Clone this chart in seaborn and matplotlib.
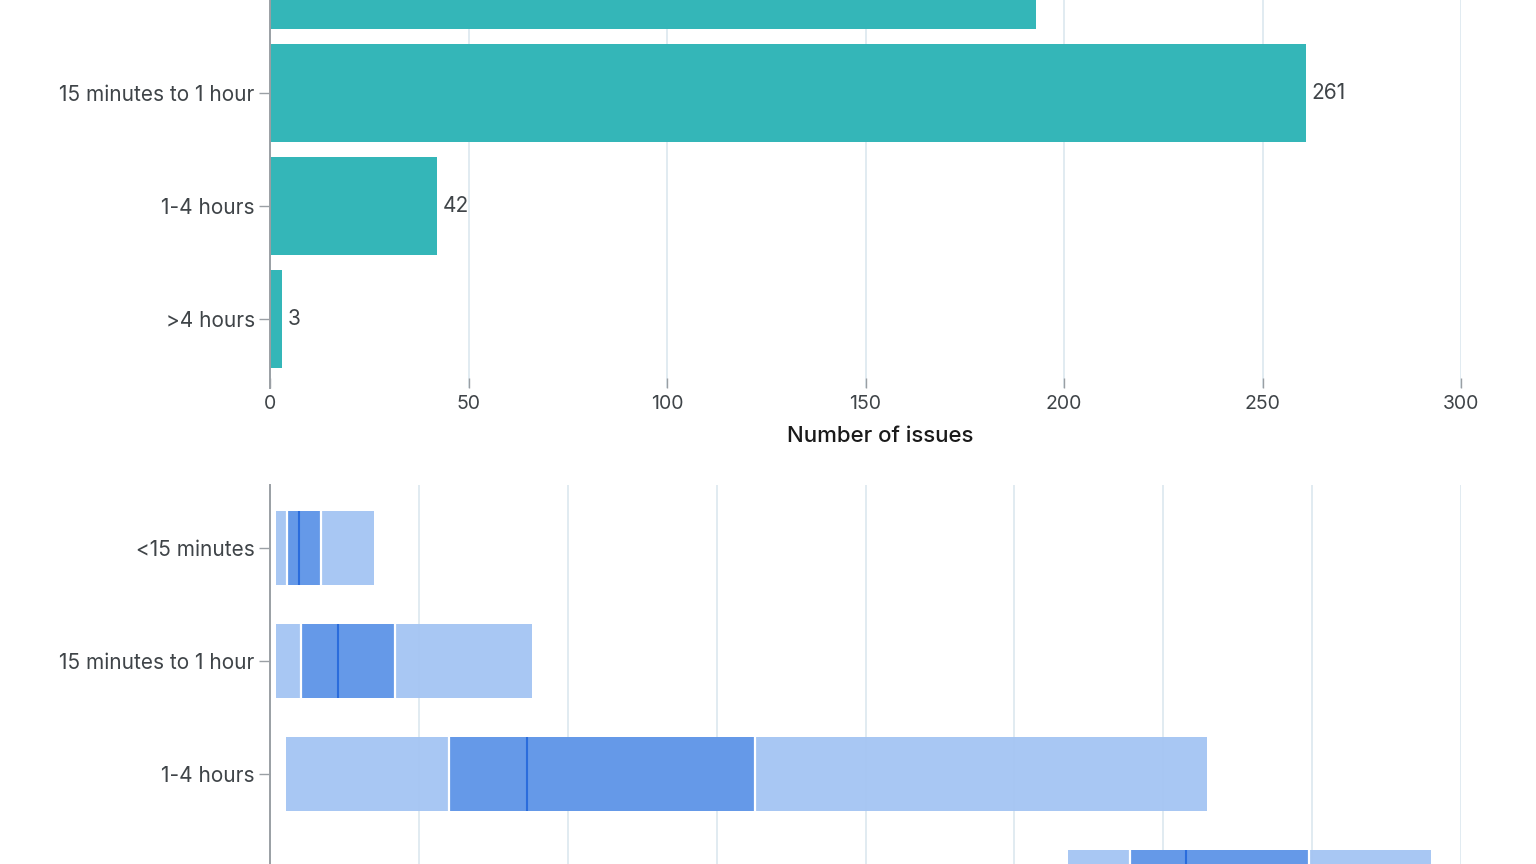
import matplotlib
matplotlib.use("Agg")
import matplotlib.pyplot as plt
import pandas as pd
import seaborn as sns


CATEGORIES = ["<15 minutes", "15 minutes to 1 hour", "1-4 hours", ">4 hours"]
ISSUE_COUNTS = [193, 261, 42, 3]

# spread per category (low whisker, q1, median, q3, high whisker)
RANGE_LOW = [2, 2, 5.4, 268]
RANGE_Q1 = [5.7, 10.4, 60, 289]
RANGE_MEDIAN = [9.7, 22.8, 86.3, 307.7]
RANGE_Q3 = [17, 42, 163, 349]
RANGE_HIGH = [35, 88, 314.7, 390]

COLOR_TEAL = "#34b6b8"
COLOR_LIGHT = "#a4c4f3"
COLOR_MID = "#6297e8"
COLOR_MEDIAN = "#2a6cdc"
COLOR_GRID = "#d9e6ee"
COLOR_SPINE = "#9a9fa4"
COLOR_TEXT = "#3f4448"

W, H = 1536, 864


def px_axes(fig, left, top, right, bottom):
    return fig.add_axes([left / W, 1 - bottom / H, (right - left) / W, (bottom - top) / H])


def style_axes(ax):
    ax.set_facecolor("white")
    for side in ["top", "right", "bottom"]:
        ax.spines[side].set_visible(False)
    ax.spines["left"].set_color(COLOR_SPINE)
    ax.spines["left"].set_linewidth(1.4)
    ax.xaxis.grid(True, color=COLOR_GRID, linewidth=1.1)
    ax.yaxis.grid(False)
    ax.set_axisbelow(True)
    ax.tick_params(axis="y", left=True, length=8, width=1, color=COLOR_SPINE, pad=3,
                   labelsize=15, labelcolor=COLOR_TEXT)
    ax.tick_params(axis="x", bottom=True, direction="in", length=7, width=1,
                   color=COLOR_SPINE, pad=5, labelsize=14, labelcolor=COLOR_TEXT)


sns.set_theme(style="white")
plt.rcParams["font.family"] = ["Inter", "DejaVu Sans"]

fig = plt.figure(figsize=(W / 100, H / 100), dpi=100, facecolor="white")

# top panel: number of issues per duration bucket
ax1 = px_axes(fig, 270, -89, 1461, 388)
counts = pd.DataFrame({"category": CATEGORIES, "count": ISSUE_COUNTS})
sns.barplot(data=counts, y="category", x="count", orient="h", color=COLOR_TEAL,
            saturation=1, width=0.87, ax=ax1)
style_axes(ax1)
ax1.set_xlim(0, 300)
ax1.set_ylim(3.61, -0.61)
ax1.set_xticks(range(0, 301, 50))
ax1.set_ylabel("")
ax1.set_xlabel("Number of issues", fontsize=16, fontweight="medium", color="#1a1a1a")
ax1.xaxis.set_label_coords(0.512, -0.08)
for patch in ax1.patches:
    patch.set_edgecolor("none")
ax1.bar_label(ax1.containers[0], labels=[str(v) for v in ISSUE_COUNTS], padding=4,
              fontsize=15, color=COLOR_TEXT)

# bottom panel: spread per duration bucket
ax2 = px_axes(fig, 270, 485, 1461, 950)
style_axes(ax2)
ypos = list(range(len(CATEGORIES)))
height = 0.65
ax2.barh(ypos, [h - l for l, h in zip(RANGE_LOW, RANGE_HIGH)], left=RANGE_LOW,
         height=height, color=COLOR_LIGHT, alpha=0.95, edgecolor="none")
ax2.barh(ypos, [q3 - q1 for q1, q3 in zip(RANGE_Q1, RANGE_Q3)], left=RANGE_Q1,
         height=height, color=COLOR_MID, alpha=0.95, edgecolor="none")
for y, q1, med, q3 in zip(ypos, RANGE_Q1, RANGE_MEDIAN, RANGE_Q3):
    ax2.vlines([q1, q3], y - height / 2, y + height / 2, color="white", linewidth=1.6)
    ax2.vlines(med, y - height / 2, y + height / 2, color=COLOR_MEDIAN, linewidth=1.5)
ax2.set_yticks(ypos)
ax2.set_yticklabels(CATEGORIES)
ax2.set_xlim(0, 400)
ax2.set_xticks(range(0, 401, 50))
ax2.tick_params(axis="x", labelbottom=False, bottom=False)
ax2.set_ylim(3.557, -0.557)

fig.savefig("out.png", dpi=100, facecolor="white")
plt.close(fig)
